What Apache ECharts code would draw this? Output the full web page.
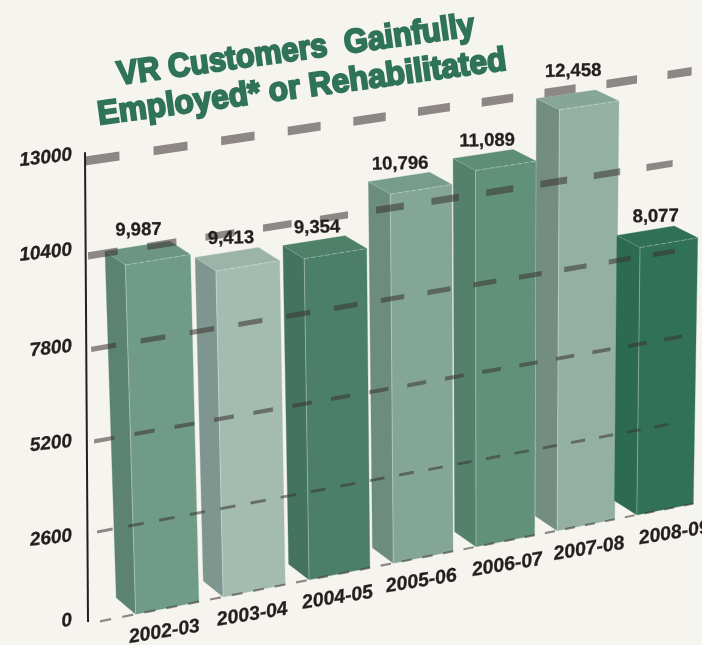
<!DOCTYPE html>
<html>
<head>
<meta charset="utf-8">
<style>html,body{margin:0;padding:0;background:#f5f4ee}#c{width:702px;height:645px}</style>
<script src="https://cdn.jsdelivr.net/npm/echarts@6/dist/echarts.min.js"></script>
</head>
<body>
<div id="c"></div>
<script>
// ---------- data ----------
const categories = ['2002-03','2003-04','2004-05','2005-06','2006-07','2007-08','2008-09'];
const customers = [9987, 9413, 9354, 10796, 11089, 12458, 8077];
const tickValues = [0, 2600, 5200, 7800, 10400, 13000];
const titleLines = ['VR Customers  Gainfully', 'Employed* or Rehabilitated'];

// ---------- styles ----------
const frontColors = ['#709b89','#a3bbb1','#4c7f6b','#83a698','#62917b','#93b0a3','#317158'];
const sideColors  = ['#5c8372','#7f9690','#447360','#6c8c7f','#55806c','#748d82','#2d6a53'];
const topColors   = ['#6c9583','#9bb3a9','#4f8069','#779c8c','#5e8d78','#86a798','#2f7057'];
const tickPeriod = [0.25, 0.348, 0.448, 0.547, 0.647, 0.746];   // dash period, in category units
const tickHalf   = [32, 43, 59, 74, 100, 122];                  // half thickness, in value units
const tickEnd    = [6.36, 6.05, 6.2, 6.125, 6.09, 6.25];        // where each line stops, in category units
const barLabelLift = [16, 14, 13, 13, 13, 23, 14];
const barLabelShift = [1, 4, 3, 1, 4, 7, 10];
const catLabelShift = [-3, -2, -2, -2, 2, 3, 9];
const tickLabelLift = [-1, -6, -2, 1, 4, 4];
const INK = '#231f20', GREEN = '#2f7358';

// ---------- view: the value plane seen in perspective ----------
const GRID = {left: 100, top: 70, width: 593, height: 551};
const U_MIN = -0.762, U_MAX = 6.36, BAR_HALF = 0.36;
const QUAD = {a:[100,621.3], c:[693.3,503.7], d:[700.5,70], b:[85,161]}; // s,t = 00,10,11,01
const H = (function(q){
  const dx1=q.c[0]-q.d[0], dx2=q.b[0]-q.d[0], sx=q.a[0]-q.c[0]+q.d[0]-q.b[0];
  const dy1=q.c[1]-q.d[1], dy2=q.b[1]-q.d[1], sy=q.a[1]-q.c[1]+q.d[1]-q.b[1];
  const den=dx1*dy2-dx2*dy1;
  const g=(sx*dy2-dx2*sy)/den, h=(dx1*sy-sx*dy1)/den;
  return {g,h,a:q.c[0]-q.a[0]+g*q.c[0],b:q.b[0]-q.a[0]+h*q.b[0],c:q.a[0],
          d:q.c[1]-q.a[1]+g*q.c[1],e:q.b[1]-q.a[1]+h*q.b[1],f:q.a[1]};
})(QUAD);
function project(pt, depth){
  const s=(pt[0]-GRID.left)/GRID.width, t=(GRID.top+GRID.height-pt[1])/GRID.height;
  const w=H.g*s+H.h*t+1;
  let x=(H.a*s+H.b*t+H.c)/w, y=(H.d*s+H.e*t+H.f)/w;
  if(depth){ x-=depth*(19.2+3.5*s+1.2*t); y-=depth*(16.5-2.5*s-3.5*t); }
  return [x,y];
}
const TXT = 'Liberation Sans, Arial, sans-serif';

function renderBar(params, api){
  const i=api.value(0), v=api.value(1);
  const P=(u,val,d)=>project(api.coord([u,val]),d);
  const L=i-BAR_HALF, R=i+BAR_HALF;
  const poly=(pts,fill)=>({type:'polygon',shape:{points:pts},style:{fill:fill,stroke:fill,lineWidth:0.3}});
  const seg=(p,q,stroke,w,dash)=>({type:'line',shape:{x1:p[0],y1:p[1],x2:q[0],y2:q[1]},
    style:{stroke:stroke,lineWidth:w,lineDash:dash||null,fill:null}});
  return {type:'group',children:[
    poly([P(L,0,1),P(L,v,1),P(L,v,0),P(L,0,0)],sideColors[i]),
    poly([P(L,v,1),P(R,v,1),P(R,v,0),P(L,v,0)],topColors[i]),
    poly([P(L,0,0),P(L,v,0),P(R,v,0),P(R,0,0)],frontColors[i]),
    seg(P(L,0,0),P(L,v,0),'rgba(255,255,255,0.32)',1),
    seg(P(L,v,0),P(R,v,0),'rgba(255,255,255,0.32)',1,[5,2]),
    seg(P(L,v,0),P(L,v,1),'rgba(255,255,255,0.18)',0.8)
  ]};
}
function renderTick(params, api){
  const k=params.dataIndex, v=api.value(0);
  const p=tickPeriod[k], half=tickHalf[k], end=tickEnd[k];
  const kids=[];
  for(let u=U_MIN;u<end;u+=p){
    const u2=Math.min(u+p/2,end);
    kids.push({type:'polygon',shape:{points:[
      project(api.coord([u,v-half])),project(api.coord([u,v+half])),
      project(api.coord([u2,v+half])),project(api.coord([u2,v-half]))]},
      style:{fill:'rgba(58,52,50,0.56)'}});
  }
  return {type:'group',children:kids};
}
function renderAxis(params, api){
  const p=project(api.coord([U_MIN,0]));
  const q=project(api.coord([U_MIN,13000]));
  return {type:'line',shape:{x1:p[0]-12,y1:p[1]+0.7,x2:q[0],y2:q[1]-8.7},style:{stroke:INK,lineWidth:2,fill:null}};
}
function renderBarLabel(params, api){
  const i=api.value(0), v=api.value(1);
  const p=project(api.coord([i,v]),1);
  return {type:'text',x:p[0]+barLabelShift[i],y:p[1]-barLabelLift[i],rotation:0.02,
    style:{text:v.toLocaleString('en-US'),x:0,y:0,align:'center',verticalAlign:'middle',
      font:'bold 18.5px '+TXT,fill:INK,stroke:INK,lineWidth:0.3}};
}
function renderCatLabel(params, api){
  const i=api.value(0);
  const p=project(api.coord([i,0]));
  return {type:'text',x:p[0]+catLabelShift[i],y:p[1]+24,rotation:0.16,
    style:{text:categories[i],x:0,y:0,align:'center',verticalAlign:'middle',
      font:'italic bold 19.5px '+TXT,fill:INK,stroke:INK,lineWidth:0.3}};
}
function renderTickLabel(params, api){
  const k=params.dataIndex, v=api.value(0);
  const p=project(api.coord([U_MIN,v]));
  return {type:'text',x:72,y:p[1]-tickLabelLift[k]-2,rotation:0.11,
    style:{text:String(v),x:0,y:0,align:'right',verticalAlign:'middle',
      font:'italic bold 19px '+TXT,fill:INK,stroke:INK,lineWidth:0.3}};
}

const barData = categories.map((c,i)=>[i,customers[i]]);
const tickData = tickValues.map(v=>[v]);
const chart = echarts.init(document.getElementById('c'),null,{renderer:'canvas'});
chart.setOption({
  animation:false,
  backgroundColor:'#f5f4ee',
  grid:GRID,
  xAxis:{type:'value',min:U_MIN,max:U_MAX,show:false},
  yAxis:{type:'value',min:0,max:13000,show:false},
  graphic:[
    {type:'text',x:296,y:51,rotation:0.137,scaleX:0.96,scaleY:1.04,z:50,style:{text:titleLines[0],x:0,y:0,textAlign:'center',textVerticalAlign:'middle',
      font:'bold 32px '+TXT,fill:GREEN,stroke:GREEN,lineWidth:2}},
    {type:'text',x:302,y:88,rotation:0.134,scaleX:0.99,scaleY:1.04,z:50,style:{text:titleLines[1],x:0,y:0,textAlign:'center',textVerticalAlign:'middle',
      font:'bold 32px '+TXT,fill:GREEN,stroke:GREEN,lineWidth:2}}
  ],
  series:[
    {type:'custom',name:'VR Customers',renderItem:renderBar,data:barData,z:2,clip:false,silent:true,encode:{x:0,y:1}},
    {type:'custom',name:'gridlines',renderItem:renderTick,data:tickData,z:3,clip:false,silent:true},
    {type:'custom',name:'axis',renderItem:renderAxis,data:[[0]],z:4,clip:false,silent:true},
    {type:'custom',name:'values',renderItem:renderBarLabel,data:barData,z:5,clip:false,silent:true},
    {type:'custom',name:'categories',renderItem:renderCatLabel,data:barData,z:5,clip:false,silent:true},
    {type:'custom',name:'ticks',renderItem:renderTickLabel,data:tickData,z:5,clip:false,silent:true}
  ]
});
</script>
</body>
</html>
